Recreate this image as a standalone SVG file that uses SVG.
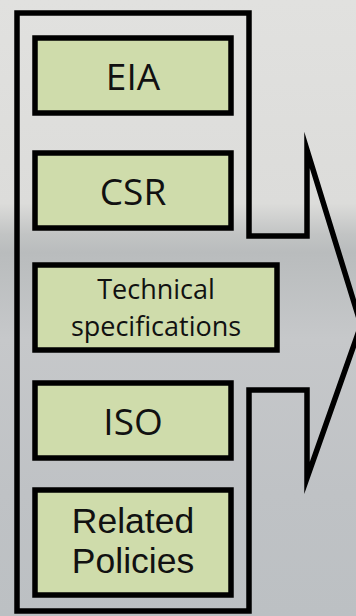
<svg xmlns="http://www.w3.org/2000/svg" width="356" height="616" viewBox="0 0 356 616">
  <defs>
    <linearGradient id="bg" x1="0" y1="0" x2="0" y2="1">
      <stop offset="0" stop-color="#e1e1df"/>
      <stop offset="0.33" stop-color="#dcdcda"/>
      <stop offset="0.38" stop-color="#c2c4c4"/>
      <stop offset="0.41" stop-color="#b9bcbd"/>
      <stop offset="0.55" stop-color="#c6c8ca"/>
      <stop offset="0.8" stop-color="#bfc2c5"/>
      <stop offset="1" stop-color="#bcc0c3"/>
    </linearGradient>
    <style>
      .box { fill: #cfdcab; stroke: #000; stroke-width: 5.5; }
      .outline { fill: none; stroke: #000; stroke-width: 5.5; stroke-linejoin: miter; stroke-miterlimit: 10; }
      .lbl { font-family: "Open Sans", "Liberation Sans", sans-serif; fill: #111; text-anchor: middle; }
      .big { font-size: 37px; }
      .small { font-size: 27px; }
      .two { font-family: "Liberation Sans", "Open Sans", sans-serif; font-size: 35.5px; }
    </style>
  </defs>
  <rect x="0" y="0" width="356" height="616" fill="url(#bg)"/>
  <g id="connectors">
    <path id="callout" class="outline" d="M17,13 H249 V236 H307 V150 L361,325 L307,478 V390 H249 V611 H17 Z"/>
  </g>
  <g id="eia">
    <rect class="box" x="35" y="38" width="196" height="75"/>
    <text class="lbl big" x="133" y="90">EIA</text>
  </g>
  <g id="csr">
    <rect class="box" x="35" y="153" width="196" height="75"/>
    <text class="lbl big" x="133" y="205">CSR</text>
  </g>
  <g id="technical">
    <rect class="box" x="35" y="265" width="242" height="85"/>
    <text class="lbl small" x="156" y="299">Technical<tspan x="156" dy="37">specifications</tspan></text>
  </g>
  <g id="iso">
    <rect class="box" x="35" y="383" width="196" height="75"/>
    <text class="lbl big" x="133" y="435">ISO</text>
  </g>
  <g id="related">
    <rect class="box" x="35" y="490" width="196" height="105"/>
    <text class="lbl two" x="133" y="533">Related<tspan x="133" dy="40">Policies</tspan></text>
  </g>
</svg>
